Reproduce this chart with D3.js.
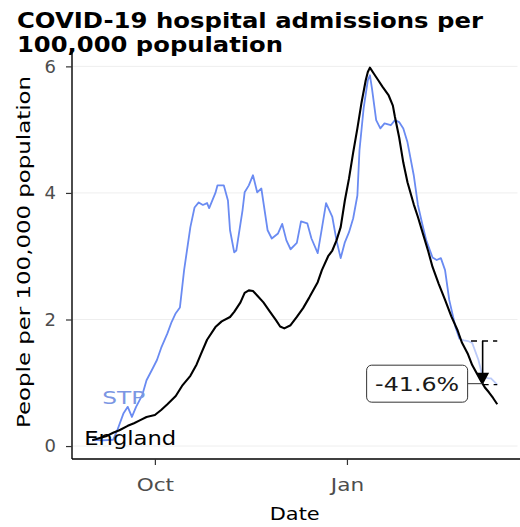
<!DOCTYPE html>
<html>
<head>
<meta charset="utf-8">
<script src="https://cdn.jsdelivr.net/npm/d3@7"></script>
<style>
  body { margin: 0; background: #fff; }
  svg { display: block; font-family: "DejaVu Sans", sans-serif; }
</style>
</head>
<body>
<svg id="chart" width="520" height="527"></svg>
<script>
// values
var titleLines = ['COVID-19 hospital admissions per', '100,000 population'];
var yTicks = [0, 2, 4, 6];

var englandDates = [
  '2020-09-01', '2020-09-05', '2020-09-08', '2020-09-11', '2020-09-14', '2020-09-18',
  '2020-09-21', '2020-09-24', '2020-09-27', '2020-10-01', '2020-10-04', '2020-10-07',
  '2020-10-11', '2020-10-14', '2020-10-18', '2020-10-21', '2020-10-23', '2020-10-26',
  '2020-10-30', '2020-11-02', '2020-11-06', '2020-11-08', '2020-11-11', '2020-11-13',
  '2020-11-15', '2020-11-17', '2020-11-19', '2020-11-22', '2020-11-25', '2020-11-28',
  '2020-11-30', '2020-12-02', '2020-12-05', '2020-12-08', '2020-12-11', '2020-12-14',
  '2020-12-18', '2020-12-20', '2020-12-23', '2020-12-25', '2020-12-27', '2020-12-29',
  '2020-12-31', '2021-01-02', '2021-01-04', '2021-01-06', '2021-01-08', '2021-01-10',
  '2021-01-11', '2021-01-12', '2021-01-14', '2021-01-16', '2021-01-18', '2021-01-21',
  '2021-01-23', '2021-01-24', '2021-01-26', '2021-01-28', '2021-01-30', '2021-02-02',
  '2021-02-04', '2021-02-06', '2021-02-09', '2021-02-11', '2021-02-14', '2021-02-17',
  '2021-02-20', '2021-02-23', '2021-02-25', '2021-02-28', '2021-03-02', '2021-03-06',
  '2021-03-08', '2021-03-10', '2021-03-12', '2021-03-14'
];
var englandValues = [
  0.09, 0.13, 0.16, 0.21, 0.25, 0.32,
  0.36, 0.41, 0.46, 0.49, 0.57, 0.66,
  0.79, 0.95, 1.11, 1.29, 1.45, 1.68,
  1.88, 1.97, 2.04, 2.12, 2.27, 2.42,
  2.46, 2.45, 2.38, 2.27, 2.13, 1.99,
  1.89, 1.86, 1.91, 2.04, 2.18, 2.35,
  2.59, 2.78, 3.00, 3.09, 3.25, 3.46,
  3.88, 4.23, 4.64, 5.02, 5.43, 5.78,
  5.91, 5.98, 5.88, 5.78, 5.68, 5.54,
  5.38, 5.20, 4.88, 4.48, 4.17, 3.82,
  3.62, 3.40, 3.07, 2.83, 2.56, 2.31,
  2.05, 1.83, 1.64, 1.45, 1.28, 1.04,
  0.93, 0.85, 0.76, 0.66
];

var stpDates = [
  '2020-09-01', '2020-09-06', '2020-09-11', '2020-09-13', '2020-09-16', '2020-09-18',
  '2020-09-20', '2020-09-22', '2020-09-25', '2020-09-27', '2020-09-30', '2020-10-02',
  '2020-10-04', '2020-10-07', '2020-10-09', '2020-10-11', '2020-10-13', '2020-10-15',
  '2020-10-18', '2020-10-20', '2020-10-22', '2020-10-24', '2020-10-26', '2020-10-27',
  '2020-10-30', '2020-10-31', '2020-11-03', '2020-11-05', '2020-11-06', '2020-11-08',
  '2020-11-09', '2020-11-12', '2020-11-13', '2020-11-15', '2020-11-17', '2020-11-19',
  '2020-11-21', '2020-11-24', '2020-11-26', '2020-11-29', '2020-12-01', '2020-12-03',
  '2020-12-05', '2020-12-08', '2020-12-10', '2020-12-13', '2020-12-15', '2020-12-18',
  '2020-12-20', '2020-12-22', '2020-12-25', '2020-12-27', '2020-12-29', '2020-12-31',
  '2021-01-02', '2021-01-04', '2021-01-06', '2021-01-07', '2021-01-09', '2021-01-11',
  '2021-01-12', '2021-01-13', '2021-01-15', '2021-01-17', '2021-01-19', '2021-01-22',
  '2021-01-24', '2021-01-26', '2021-01-28', '2021-01-30', '2021-02-02', '2021-02-04',
  '2021-02-06', '2021-02-08', '2021-02-11', '2021-02-13', '2021-02-15', '2021-02-17',
  '2021-02-19', '2021-02-22', '2021-02-24'
];
var stpValues = [
  0.10, 0.09, 0.10, 0.25, 0.52, 0.62,
  0.46, 0.62, 0.81, 1.04, 1.23, 1.36,
  1.55, 1.78, 1.96, 2.10, 2.19, 2.78,
  3.46, 3.77, 3.85, 3.81, 3.84, 3.76,
  4.00, 4.12, 4.12, 3.88, 3.41, 3.06,
  3.09, 3.73, 4.01, 4.12, 4.28, 4.01,
  4.07, 3.41, 3.28, 3.36, 3.51, 3.25,
  3.11, 3.21, 3.55, 3.52, 3.28, 3.05,
  3.44, 3.84, 3.62, 3.25, 2.97, 3.22,
  3.38, 3.60, 3.96, 4.67, 5.34, 5.78,
  5.86, 5.65, 5.15, 5.02, 5.10, 5.07,
  5.15, 5.12, 5.02, 4.80, 4.28, 3.81,
  3.52, 3.25, 2.98, 2.94, 2.97, 2.78,
  2.31, 1.88, 1.69
];

// latest, still incomplete STP figures (drawn faded)
var stpRecentDates = [
  '2021-02-24', '2021-02-26', '2021-02-28', '2021-03-02', '2021-03-05', '2021-03-07',
  '2021-03-10', '2021-03-11', '2021-03-14'
];
var stpRecentValues = [1.69, 1.67, 1.66, 1.63, 1.36, 1.09, 1.07, 1.07, 0.97];

var changeFrom = '2021-02-28';
var changeArrowAt = '2021-03-07';
var changeLabel = '-41.6%';

var parseDate = d3.timeParse('%Y-%m-%d');

function toPoints(dates, values) {
  return dates.map(function (d, i) {
    return { date: parseDate(d), value: values[i] };
  });
}

// the reference glyphs run wider than DejaVu, so stretch texts to its widths
function fitWidth(sel, w) {
  sel.attr('textLength', w).attr('lengthAdjust', 'spacingAndGlyphs');
}

function stretch(sel, k) {
  sel.each(function () {
    fitWidth(d3.select(this), this.getComputedTextLength() * k);
  });
}

var england = toPoints(englandDates, englandValues);
var stp = toPoints(stpDates, stpValues);
var stpRecent = toPoints(stpRecentDates, stpRecentValues);
var all = england.concat(stp, stpRecent);

var svg = d3.select('#chart');
var width = 520, height = 527;
var margin = { top: 49, right: 2.5, bottom: 68, left: 72 };
var innerWidth = width - margin.left - margin.right;
var innerHeight = height - margin.top - margin.bottom;

// ggplot style 5% expansion on both scales
var xExt = d3.extent(all, function (d) { return d.date; });
var xPad = (xExt[1] - xExt[0]) * 0.05;
var x = d3.scaleTime()
  .domain([new Date(+xExt[0] - xPad), new Date(+xExt[1] + xPad)])
  .range([0, innerWidth]);

var yExt = d3.extent(all, function (d) { return d.value; });
var yPad = (yExt[1] - yExt[0]) * 0.05;
var y = d3.scaleLinear()
  .domain([yExt[0] - yPad, yExt[1] + yPad])
  .range([innerHeight, 0]);

var g = svg.append('g')
  .attr('transform', 'translate(' + margin.left + ',' + margin.top + ')');

// faint horizontal grid
g.append('g').attr('class', 'grid')
  .selectAll('line')
  .data(yTicks)
  .enter().append('line')
  .attr('x1', 0)
  .attr('x2', innerWidth)
  .attr('y1', function (d) { return y(d); })
  .attr('y2', function (d) { return y(d); })
  .attr('stroke', '#eeeeee')
  .attr('stroke-width', 1);

var line = d3.line()
  .x(function (d) { return x(d.date); })
  .y(function (d) { return y(d.value); });

g.append('path')
  .datum(stpRecent)
  .attr('d', line)
  .attr('fill', 'none')
  .attr('stroke', '#6a8bf2')
  .attr('stroke-opacity', 0.45)
  .attr('stroke-width', 1.8);

g.append('path')
  .datum(stp)
  .attr('d', line)
  .attr('fill', 'none')
  .attr('stroke', '#6a8bf2')
  .attr('stroke-width', 1.8)
  .attr('stroke-linejoin', 'round');

g.append('path')
  .datum(england)
  .attr('d', line)
  .attr('fill', 'none')
  .attr('stroke', '#000')
  .attr('stroke-width', 2.1)
  .attr('stroke-linejoin', 'round');

// series labels at the start of each line
g.append('text')
  .attr('x', x(stp[0].date) + 10)
  .attr('y', y(stp[0].value) - 36)
  .attr('fill', '#7b96e3')
  .attr('font-size', 18)
  .text('STP')
  .call(fitWidth, 43);

g.append('text')
  .attr('x', x(england[0].date) - 8)
  .attr('y', y(england[0].value) + 5)
  .attr('fill', '#000')
  .attr('font-size', 19)
  .text('England')
  .call(fitWidth, 92);

// change annotation on the recent STP figures
var startValue = stpRecent.find(function (d) { return +d.date === +parseDate(changeFrom); }).value;
var last = stpRecent[stpRecent.length - 1];
var arrowX = x(parseDate(changeArrowAt));
var yTop = y(startValue);
var yEnd = y(last.value);

var ann = g.append('g').attr('class', 'change');

ann.append('line')
  .attr('x1', x(parseDate(changeFrom)) + 3)
  .attr('x2', x(last.date))
  .attr('y1', yTop).attr('y2', yTop)
  .attr('stroke', '#000')
  .attr('stroke-width', 1.3)
  .attr('stroke-dasharray', '6,5');

ann.append('line')
  .attr('x1', arrowX)
  .attr('x2', x(last.date))
  .attr('y1', yEnd).attr('y2', yEnd)
  .attr('stroke', '#000')
  .attr('stroke-width', 1.3)
  .attr('stroke-dasharray', '6,5');

ann.append('line')
  .attr('x1', arrowX).attr('x2', arrowX)
  .attr('y1', yTop).attr('y2', yEnd - 10)
  .attr('stroke', '#000')
  .attr('stroke-width', 1.6);

ann.append('path')
  .attr('d', 'M' + (arrowX - 6.5) + ',' + (yEnd - 12) + 'L' + (arrowX + 6.5) + ',' + (yEnd - 12) +
    'L' + arrowX + ',' + yEnd + 'Z')
  .attr('fill', '#000');

var labelW = 84;
var boxW = labelW + 17, boxH = 37;
var boxRight = arrowX - 15;
var boxCy = yEnd - 1;

ann.append('line')
  .attr('x1', boxRight).attr('x2', arrowX)
  .attr('y1', boxCy).attr('y2', boxCy)
  .attr('stroke', '#333')
  .attr('stroke-width', 1);

ann.append('rect')
  .attr('x', boxRight - boxW)
  .attr('y', boxCy - boxH / 2)
  .attr('width', boxW)
  .attr('height', boxH)
  .attr('rx', 5)
  .attr('fill', '#fff')
  .attr('stroke', '#333')
  .attr('stroke-width', 1);

ann.append('text')
  .attr('x', boxRight - boxW / 2)
  .attr('y', boxCy + 7)
  .attr('font-size', 19)
  .attr('fill', '#1a1a1a')
  .attr('text-anchor', 'middle')
  .text(changeLabel)
  .call(fitWidth, labelW);

// axes
var xAxis = g.append('g')
  .attr('transform', 'translate(0,' + innerHeight + ')')
  .call(d3.axisBottom(x)
    .ticks(d3.timeMonth.every(3))
    .tickFormat(d3.timeFormat('%b'))
    .tickSize(6)
    .tickPadding(13));

var yAxis = g.append('g')
  .call(d3.axisLeft(y)
    .tickValues(yTicks)
    .tickFormat(d3.format('d'))
    .tickSize(6)
    .tickPadding(10));

[xAxis, yAxis].forEach(function (axis) {
  axis.select('.domain')
    .attr('stroke', '#000')
    .attr('stroke-width', 1.4);
  axis.selectAll('.tick line')
    .attr('stroke', '#333')
    .attr('stroke-width', 1.2);
  axis.selectAll('.tick text')
    .attr('fill', '#4d4d4d')
    .attr('font-size', 18)
    .attr('font-family', '"DejaVu Sans", sans-serif');
});
xAxis.selectAll('.tick text').call(stretch, 1.2);

// keep the axis lines open-ended like the reference
xAxis.select('.domain').attr('d', 'M0,0H' + (innerWidth + margin.right));
yAxis.select('.domain').attr('d', 'M0,' + innerHeight + 'V0');

// titles
svg.append('text')
  .attr('x', margin.left + innerWidth / 2)
  .attr('y', 520)
  .attr('text-anchor', 'middle')
  .attr('font-size', 18)
  .attr('fill', '#000')
  .text('Date')
  .call(fitWidth, 50);

svg.append('text')
  .attr('transform', 'translate(30,' + (margin.top + innerHeight / 2 - 2) + ') rotate(-90)')
  .attr('text-anchor', 'middle')
  .attr('font-size', 18)
  .attr('fill', '#000')
  .text('People per 100,000 population')
  .call(fitWidth, 352);

var titleWidths = [466, 266];
svg.append('g')
  .selectAll('text')
  .data(titleLines)
  .enter().append('text')
  .attr('x', 17)
  .attr('y', function (d, i) { return 28 + i * 24; })
  .attr('font-size', 21)
  .attr('font-weight', 'bold')
  .attr('fill', '#000')
  .text(function (d) { return d; })
  .each(function (d, i) { fitWidth(d3.select(this), titleWidths[i]); });
</script>
</body>
</html>
